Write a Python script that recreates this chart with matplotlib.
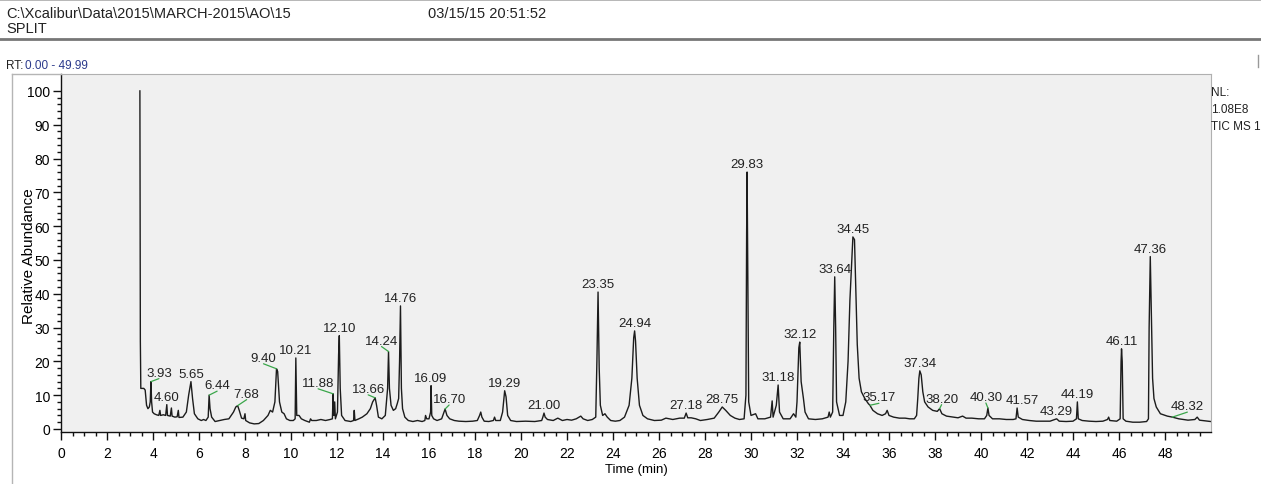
import numpy as np
import matplotlib
matplotlib.use("Agg")
import matplotlib.pyplot as plt
from matplotlib.lines import Line2D
from matplotlib.ticker import FixedLocator

W, H = 1261, 485

# TIC trace (time in min, relative abundance in %)
trace_time = [
    3.43, 3.45, 3.47, 3.60, 3.66, 3.72, 3.78, 3.84, 3.88, 3.91, 3.94, 3.98,
    4.05, 4.15, 4.25, 4.30, 4.33, 4.45, 4.55, 4.60, 4.63, 4.75, 4.80, 4.83,
    4.95, 5.05, 5.10, 5.13, 5.30, 5.45, 5.55, 5.65, 5.72, 5.80, 5.95, 6.10,
    6.20, 6.30, 6.40, 6.44, 6.48, 6.55, 6.70, 6.90, 7.10, 7.30, 7.50, 7.60,
    7.68, 7.75, 7.85, 7.95, 8.00, 8.03, 8.20, 8.40, 8.60, 8.80, 9.00, 9.10,
    9.20, 9.30, 9.37, 9.42, 9.50, 9.60, 9.70, 9.80, 9.95, 10.10, 10.18, 10.21,
    10.25, 10.35, 10.45, 10.60, 10.80, 10.85, 10.90, 11.10, 11.30, 11.50, 11.70, 11.80,
    11.83, 11.86, 11.90, 11.93, 12.02, 12.07, 12.10, 12.14, 12.20, 12.35, 12.60, 12.72,
    12.75, 12.78, 12.95, 13.10, 13.30, 13.45, 13.55, 13.66, 13.72, 13.80, 13.95, 14.10,
    14.20, 14.24, 14.28, 14.35, 14.45, 14.55, 14.62, 14.68, 14.72, 14.76, 14.80, 14.85,
    14.95, 15.10, 15.30, 15.50, 15.70, 15.82, 15.85, 15.90, 16.00, 16.07, 16.09, 16.12,
    16.20, 16.35, 16.55, 16.65, 16.70, 16.78, 16.90, 17.10, 17.30, 17.60, 17.90, 18.10,
    18.20, 18.25, 18.30, 18.40, 18.60, 18.80, 18.85, 18.90, 19.10, 19.20, 19.29, 19.35,
    19.42, 19.55, 19.80, 20.20, 20.60, 20.90, 20.95, 21.00, 21.05, 21.15, 21.40, 21.60,
    21.80, 22.00, 22.20, 22.40, 22.60, 22.70, 22.90, 23.10, 23.25, 23.30, 23.35, 23.40,
    23.45, 23.55, 23.65, 23.75, 23.90, 24.10, 24.30, 24.50, 24.70, 24.82, 24.90, 24.94,
    24.98, 25.05, 25.15, 25.30, 25.50, 25.80, 26.10, 26.30, 26.60, 26.90, 27.10, 27.18,
    27.25, 27.40, 27.60, 27.80, 28.10, 28.40, 28.60, 28.75, 28.90, 29.10, 29.30, 29.50,
    29.70, 29.78, 29.81, 29.83, 29.86, 29.90, 30.00, 30.20, 30.30, 30.60, 30.85, 30.92,
    30.96, 31.10, 31.18, 31.24, 31.40, 31.70, 31.85, 31.95, 32.00, 32.08, 32.12, 32.18,
    32.28, 32.35, 32.50, 32.80, 33.10, 33.35, 33.40, 33.45, 33.55, 33.60, 33.64, 33.68,
    33.72, 33.85, 34.00, 34.12, 34.22, 34.30, 34.38, 34.43, 34.50, 34.56, 34.62, 34.70,
    34.80, 34.95, 35.10, 35.17, 35.30, 35.50, 35.70, 35.85, 35.92, 36.00, 36.20, 36.45,
    36.70, 36.90, 37.10, 37.20, 37.25, 37.30, 37.34, 37.40, 37.47, 37.55, 37.70, 37.90,
    38.10, 38.20, 38.30, 38.50, 38.80, 39.00, 39.20, 39.35, 39.60, 39.90, 40.15, 40.25,
    40.30, 40.35, 40.50, 40.80, 41.10, 41.40, 41.52, 41.57, 41.62, 41.80, 42.10, 42.40,
    42.70, 43.00, 43.29, 43.40, 43.70, 44.00, 44.15, 44.19, 44.23, 44.40, 44.70, 45.00,
    45.30, 45.50, 45.55, 45.60, 45.90, 46.05, 46.09, 46.11, 46.14, 46.18, 46.30, 46.60,
    46.90, 47.20, 47.28, 47.31, 47.36, 47.42, 47.46, 47.52, 47.62, 47.80, 48.10, 48.32,
    48.60, 49.00, 49.30, 49.40, 49.50, 49.99,
]
trace_abund = [
    100, 26, 12, 12, 11.5, 7, 6, 6.5, 8, 14, 8, 5,
    4.5, 4.2, 4.0, 5.5, 4.0, 4.2, 4.0, 7.2, 4.0, 3.8, 6.2, 3.8,
    3.5, 3.6, 5.5, 3.4, 3.5, 5.0, 10, 14, 9, 4.5, 3.0, 2.5,
    2.8, 2.5, 3.5, 10, 6, 3.5, 2.2, 2.5, 2.8, 3.0, 5.0, 6.5,
    6.9, 5.5, 3.2, 3.0, 4.5, 2.5, 1.8, 1.5, 1.6, 2.5, 4.0, 5.5,
    5.0, 8.0, 17.8, 17.0, 8.0, 5.0, 4.5, 3.0, 2.5, 2.5, 3.0, 21,
    4.0, 4.0, 3.0, 2.5, 2.0, 3.0, 2.5, 2.5, 2.8, 2.5, 2.8, 3.0,
    10.4, 4.0, 8.0, 3.0, 5.0, 22, 27.6, 12, 4.0, 2.5, 2.2, 2.5,
    5.5, 2.5, 3.0, 3.5, 4.5, 6.0, 8.0, 9.2, 7.0, 3.5, 3.0, 4.0,
    12, 22.9, 12, 7.0, 5.5, 6.0, 7.5, 9.0, 20, 36.4, 12, 6.0,
    3.5, 2.5, 2.2, 2.5, 2.2, 2.5, 4.0, 3.0, 3.0, 5.0, 12.8, 4.0,
    3.0, 2.5, 3.0, 5.0, 5.9, 4.0, 3.0, 2.5, 2.3, 2.2, 2.3, 2.5,
    4.0, 5.0, 3.5, 2.3, 2.2, 2.5, 3.5, 2.5, 2.5, 5.0, 11.3, 9.5,
    4.0, 2.5, 2.2, 2.3, 2.2, 2.5, 3.5, 4.7, 3.5, 2.8, 2.5, 3.2,
    2.5, 2.8, 2.6, 3.0, 3.8, 3.0, 2.5, 2.8, 3.5, 20, 40.5, 18,
    7.0, 4.0, 4.5, 3.5, 2.5, 2.3, 2.5, 3.5, 7.0, 15, 27, 29,
    26, 15, 7.0, 4.0, 3.0, 2.5, 2.6, 3.2, 2.8, 3.2, 3.2, 4.7,
    3.3, 3.3, 3.0, 2.5, 2.8, 3.2, 5.0, 6.5, 5.5, 4.0, 3.2, 2.8,
    3.0, 10, 58, 76, 45, 8.0, 4.0, 4.5, 3.0, 3.0, 3.5, 8.3,
    3.5, 7.0, 13, 5.0, 3.0, 3.0, 4.5, 3.5, 8.0, 24, 25.7, 14,
    9.0, 5.0, 3.0, 2.8, 3.0, 3.5, 5.0, 3.5, 5.0, 30, 45, 30,
    8.0, 4.0, 4.0, 8.0, 20, 38, 50, 56.8, 56, 40, 25, 15,
    11, 9.0, 7.5, 7.0, 5.5, 4.5, 4.0, 4.5, 5.5, 4.0, 3.5, 3.2,
    3.2, 3.0, 3.0, 4.0, 9.0, 15, 17.2, 16, 11, 8.0, 6.5, 5.5,
    5.2, 6.0, 4.5, 3.8, 3.5, 3.3, 3.8, 3.2, 3.2, 3.0, 3.0, 4.0,
    6.2, 4.0, 3.0, 3.0, 2.8, 2.8, 3.0, 6.2, 3.5, 2.8, 2.5, 2.3,
    2.3, 2.3, 3.0, 2.3, 2.2, 2.3, 3.0, 8.0, 3.0, 2.5, 2.3, 2.2,
    2.3, 2.8, 3.5, 2.5, 2.3, 3.0, 20, 23.7, 20, 3.0, 2.3, 2.0,
    2.0, 2.2, 3.0, 30, 51, 30, 15, 9.0, 6.5, 4.5, 3.8, 3.5,
    3.0, 2.6, 2.8, 3.5, 2.6, 2.2,
]

peak_labels = [
    "3.93", "4.60", "5.65", "6.44", "7.68", "9.40", "10.21", "11.88", "12.10",
    "13.66", "14.24", "14.76", "16.09", "16.70", "19.29", "21.00", "23.35",
    "24.94", "27.18", "28.75", "29.83", "31.18", "32.12", "33.64", "34.45",
    "35.17", "37.34", "38.20", "40.30", "41.57", "43.29", "44.19", "46.11",
    "47.36", "48.32",
]

header_path = "C:\\Xcalibur\\Data\\2015\\MARCH-2015\\AO\\15"
header_date = "03/15/15 20:51:52"
header_method = "SPLIT"
rt_range = "0.00 - 49.99"
nl_lines = ["NL:", "1.08E8", "TIC MS 1"]

# labels pushed off their peak, tied back with a green leader (offset in px)
leader_offsets = {
    "3.93": (8, 3), "6.44": (8, 4), "7.68": (9, 6), "9.40": (-13, 5),
    "11.88": (-15, 5), "13.66": (-7, 3), "14.24": (-7, 5), "16.70": (4, 4),
    "35.17": (9, 2), "38.20": (2, 4), "40.30": (-2, 5), "48.32": (15, 5),
}
# plain labels nudged sideways so they do not collide (px)
label_nudge = {"41.57": 5}

plt.rcParams['font.family'] = ['Liberation Sans Narrow', 'Liberation Sans', 'DejaVu Sans']

fig = plt.figure(figsize=(W / 100, H / 100), dpi=100)


def fx(x):
    return x / W


def fy(y):
    return 1 - y / H


# header block
fig.text(fx(6), fy(14), header_path, fontsize=10.5, va='center', color='#222222')
fig.text(fx(6), fy(29), header_method, fontsize=10.5, va='center', color='#222222')
fig.text(fx(428), fy(14), header_date, fontsize=10.5, va='center', color='#222222')
fig.add_artist(Line2D([0, 1], [fy(40), fy(40)], transform=fig.transFigure,
                      color='#777777', lw=2))
fig.add_artist(Line2D([0, 1], [fy(1), fy(1)], transform=fig.transFigure,
                      color='#aaaaaa', lw=1.2))
fig.text(fx(6), fy(66), "RT:", fontsize=8.5, va='center', color='#222222')
fig.text(fx(25), fy(66), rt_range, fontsize=8.5, va='center', color='#2b3a8c')

# outer panel frame
fig.add_artist(Line2D([fx(12), fx(12)], [fy(75), 0], transform=fig.transFigure,
                      color='#b5b5b5', lw=1))
fig.add_artist(Line2D([fx(12), fx(61)], [fy(75), fy(75)], transform=fig.transFigure,
                      color='#b5b5b5', lw=1))
fig.add_artist(Line2D([fx(1258), fx(1258)], [fy(56), fy(68)], transform=fig.transFigure,
                      color='#999999', lw=1))

ax = fig.add_axes([fx(61), fy(433), fx(1211) - fx(61), fy(75) - fy(433)])
ax.set_facecolor('#f0f0f0')
ax.plot(trace_time, trace_abund, color='#1c1c1c', lw=1.0)
ax.set_xlim(0, 50)
ax.set_ylim(-0.9, 105)

for side in ['top', 'right']:
    ax.spines[side].set_color('#b0b0b0')
for side in ['left', 'bottom']:
    ax.spines[side].set_color('#111111')
    ax.spines[side].set_linewidth(1.0)

ax.xaxis.set_major_locator(FixedLocator(np.arange(0, 49, 2)))
ax.xaxis.set_minor_locator(FixedLocator(np.arange(0, 50, 0.5)))
ax.yaxis.set_major_locator(FixedLocator(np.arange(0, 101, 10)))
ax.yaxis.set_minor_locator(FixedLocator(np.arange(0, 101, 2)))
ax.tick_params(which='major', length=6, width=1, labelsize=10, color='#111111')
ax.tick_params(which='minor', length=3, width=1, color='#111111')
ax.tick_params(axis='x', pad=4)
ax.tick_params(axis='y', pad=2)

fig.text(fx(29), fy(256), "Relative Abundance", rotation=90, ha='center',
         va='center', fontsize=11)
fig.text(fx(636), fy(470), "Time (min)", ha='center', va='center', fontsize=9.5)

for i, s in enumerate(nl_lines):
    fig.text(fx(1211), fy(93 + 17 * i), s, fontsize=8.5, va='center', color='#222222')

# peak labels
t_arr = np.array(trace_time)
a_arr = np.array(trace_abund)
for lab in peak_labels:
    rt = float(lab)
    near = np.flatnonzero(np.abs(t_arr - rt) <= 0.06)
    k = near[np.argmax(a_arr[near])]
    x0, y0 = t_arr[k], a_arr[k]
    if lab in leader_offsets:
        dx, dy = leader_offsets[lab]
        ax.annotate(lab, (x0, y0), xytext=(dx, dy), textcoords='offset pixels',
                    ha='center', va='bottom', fontsize=9.5, color='#222222',
                    arrowprops=dict(arrowstyle='-', color='#3aa64a', lw=0.9,
                                    relpos=(0.5, 0), patchA=None,
                                    shrinkA=0, shrinkB=0))
    else:
        ax.annotate(lab, (x0, y0), xytext=(label_nudge.get(lab, 0), 5),
                    textcoords='offset pixels',
                    ha='center', va='baseline', fontsize=9.5, color='#222222')

fig.savefig("out.png", dpi=100)
